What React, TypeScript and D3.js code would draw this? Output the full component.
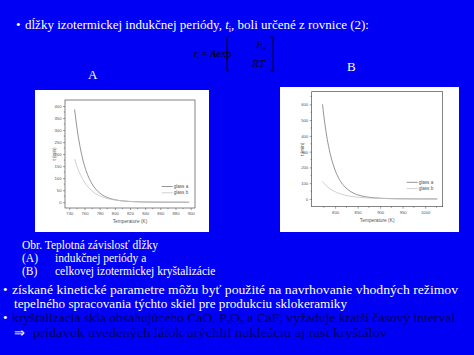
import React, { useEffect, useRef } from "react";
import * as d3 from "d3";

// chart A: induction period vs temperature
const tempA = [747, 749, 752, 755, 758, 762, 766, 770, 775, 780, 786, 792, 800, 810, 820, 835, 850, 870, 898];
const glassA_A = [386, 334, 269, 217, 175, 132, 100, 76, 54, 38.5, 25.8, 17.5, 10.4, 5.6, 3.0, 1.24, 0.52, 0.17, 0.04];
const glassB_A = [180, 160, 133, 112, 94, 74, 59, 47, 35, 26.8, 19.3, 14, 9.1, 5.4, 3.3, 1.57, 0.77, 0.31, 0.09];
const xTicksA = [740, 760, 780, 800, 820, 840, 860, 880, 900];
const yTicksA = [0, 50, 100, 150, 200, 250, 300, 350, 400];

// chart B: total isothermal crystallization
const tempB = [772, 775, 779, 784, 790, 796, 803, 812, 822, 835, 850, 870, 900, 940, 980, 1027];
const glassA_B = [600, 526, 442, 356, 276, 215, 161, 112, 76, 46, 26.4, 13, 4.7, 1.37, 0.44, 0.13];
const glassB_B = [110, 100, 88, 75, 62, 52, 42, 32, 24, 16.8, 11.2, 6.6, 3.2, 1.3, 0.56, 0.23];
const xTicksB = [800, 850, 900, 950, 1000];
const yTicksB = [0, 100, 200, 300, 400, 500, 600];

const seriesNames = ["glass a", "glass b"];
const seriesColors = ["#7a7a7a", "#c4c4c4"];

type Cfg = {
  panel: [number, number, number, number];
  xDom: [number, number];
  yDom: [number, number];
  xRange: [number, number];
  yRange: [number, number];
  xTicks: number[];
  yTicks: number[];
  temps: number[];
  series: number[][];
  legend: [number, number];
  yLabelX: number;
};

function drawChart(g: d3.Selection<SVGGElement, unknown, null, undefined>, c: Cfg) {
  const [px, py, pw, ph] = c.panel;
  g.append("rect").attr("x", px).attr("y", py).attr("width", pw).attr("height", ph).attr("fill", "#fff");

  const x = d3.scaleLinear().domain(c.xDom).range(c.xRange);
  const y = d3.scaleLinear().domain(c.yDom).range(c.yRange);

  const font = "'Liberation Sans', Arial, sans-serif";

  // frame
  g.append("rect")
    .attr("x", c.xRange[0])
    .attr("y", c.yRange[1])
    .attr("width", c.xRange[1] - c.xRange[0])
    .attr("height", c.yRange[0] - c.yRange[1])
    .attr("fill", "none")
    .attr("stroke", "#333")
    .attr("stroke-width", 0.6);

  const xAxis = g
    .append("g")
    .attr("transform", `translate(0,${c.yRange[0]})`)
    .call(d3.axisBottom(x).tickValues(c.xTicks).tickSize(2).tickPadding(2).tickFormat(d3.format("d")));
  const yAxis = g
    .append("g")
    .attr("transform", `translate(${c.xRange[0]},0)`)
    .call(d3.axisLeft(y).tickValues(c.yTicks).tickSize(2).tickPadding(1.5).tickFormat(d3.format("d")));

  [xAxis, yAxis].forEach((ax) => {
    ax.select(".domain").remove();
    ax.selectAll("line").attr("stroke", "#444").attr("stroke-width", 0.5);
    ax.selectAll("text").attr("fill", "#555").style("font-size", "4.2px").style("font-family", font);
  });

  // minor ticks
  const xStep = c.xTicks[1] - c.xTicks[0];
  const yStep = c.yTicks[1] - c.yTicks[0];
  const xMinor = c.xTicks.slice(0, -1).map((t) => t + xStep / 2).concat([c.xTicks[c.xTicks.length - 1] + xStep / 2, c.xTicks[0] - xStep / 2]);
  const yMinor = c.yTicks.slice(0, -1).map((t) => t + yStep / 2).concat([c.yTicks[c.yTicks.length - 1] + yStep / 2]);
  g.selectAll(".xm")
    .data(xMinor.filter((t) => t > c.xDom[0] && t < c.xDom[1]))
    .join("line")
    .attr("x1", (d) => x(d))
    .attr("x2", (d) => x(d))
    .attr("y1", c.yRange[0])
    .attr("y2", c.yRange[0] + 1.2)
    .attr("stroke", "#444")
    .attr("stroke-width", 0.5);
  g.selectAll(".ym")
    .data(yMinor.filter((t) => t > c.yDom[0] && t < c.yDom[1]))
    .join("line")
    .attr("x1", c.xRange[0])
    .attr("x2", c.xRange[0] - 1.2)
    .attr("y1", (d) => y(d))
    .attr("y2", (d) => y(d))
    .attr("stroke", "#444")
    .attr("stroke-width", 0.5);

  const line = d3
    .line<number>()
    .x((_, i) => x(c.temps[i]))
    .y((d) => y(d))
    .curve(d3.curveMonotoneX);

  c.series.forEach((s, i) => {
    g.append("path")
      .attr("d", line(s))
      .attr("fill", "none")
      .attr("stroke", seriesColors[i])
      .attr("stroke-width", 0.8);
  });

  // legend
  const [lx, ly] = c.legend;
  seriesNames.forEach((name, i) => {
    g.append("line")
      .attr("x1", lx)
      .attr("x2", lx + 11)
      .attr("y1", ly + i * 6.3)
      .attr("y2", ly + i * 6.3)
      .attr("stroke", seriesColors[i])
      .attr("stroke-width", 0.8);
    g.append("text")
      .attr("x", lx + 12)
      .attr("y", ly + i * 6.3 + 1.5)
      .attr("fill", "#555")
      .style("font-size", "4.6px")
      .style("font-family", font)
      .text(name);
  });

  // axis titles
  g.append("text")
    .attr("x", (c.xRange[0] + c.xRange[1]) / 2)
    .attr("y", c.yRange[0] + 15)
    .attr("text-anchor", "middle")
    .attr("fill", "#555")
    .style("font-size", "4.8px")
    .style("font-family", font)
    .text("Temperature (K)");
  const yMid = (c.yRange[0] + c.yRange[1]) / 2;
  g.append("text")
    .attr("transform", `translate(${c.yLabelX},${yMid}) rotate(-90)`)
    .attr("text-anchor", "middle")
    .attr("fill", "#555")
    .style("font-size", "4.6px")
    .style("font-family", font)
    .text("t (min)");
}

const App = () => {
  const ref = useRef<SVGSVGElement>(null);

  useEffect(() => {
    const svg = d3.select(ref.current);
    svg.selectAll(".charts").remove();
    const g = svg.append("g").attr("class", "charts");

    drawChart(g.append("g"), {
      panel: [35, 90, 174, 142],
      xDom: [734.3, 905.7],
      yDom: [-24, 425],
      xRange: [65, 195],
      yRange: [208, 100],
      xTicks: xTicksA,
      yTicks: yTicksA,
      temps: tempA,
      series: [glassA_A, glassB_A],
      legend: [161.7, 186.5],
      yLabelX: 55.5,
    });

    drawChart(g.append("g"), {
      panel: [280, 87, 179, 145],
      xDom: [748, 1039],
      yDom: [-49, 680],
      xRange: [311.7, 442.7],
      yRange: [206.7, 91.7],
      xTicks: xTicksB,
      yTicks: yTicksB,
      temps: tempB,
      series: [glassA_B, glassB_B],
      legend: [406.7, 182.3],
      yLabelX: 303.5,
    });
  }, []);

  const serif = "'Liberation Serif', 'Times New Roman', serif";
  const dark = "#00005e";

  return (
    <svg
      ref={ref}
      width={474}
      height={355}
      style={{ position: "fixed", left: 0, top: 0, display: "block" }}
      fontFamily={serif}
    >
      <rect x={0} y={0} width={474} height={355} fill="#0000f5" />

      <text x={16} y={29} fill="#fff" fontSize={13}>
        •
      </text>
      <text x={25} y={29} fill="#fff" fontSize={13}>
        dĺžky izotermickej indukčnej periódy, <tspan fontStyle="italic">t</tspan>
        <tspan fontSize={8} dy={3}>i</tspan>
        <tspan dy={-3}>, boli určené z rovnice (2):</tspan>
      </text>

      {/* formula */}
      <text x={194} y={57} fill="#000" fontSize={10.5}>
        <tspan fontStyle="italic">t</tspan>
        <tspan fontSize={6.5} dy={2}>i</tspan>
        <tspan dy={-2}> = </tspan>
        <tspan fontStyle="italic">A</tspan>exp
      </text>
      <path d="M229.5,37 h-2.5 v34 h2.5 M270.5,37 h2.5 v34 h-2.5" fill="none" stroke="#000" strokeWidth={0.9} />
      <text x={256} y={48} fill="#000" fontSize={11} fontStyle="italic">
        E<tspan fontSize={6.5} dy={2} fontStyle="normal">a</tspan>
      </text>
      <text x={252} y={67} fill="#000" fontSize={11} fontStyle="italic">
        RT
      </text>

      <text x={88} y={79} fill="#fff" fontSize={13}>A</text>
      <text x={347} y={71} fill="#fff" fontSize={13}>B</text>

      {/* caption */}
      <text x={22} y={249} fill="#fff" fontSize={11.5}>Obr. Teplotná závislosť dĺžky</text>
      <text x={22} y={262} fill="#fff" fontSize={11.5}>(A)</text>
      <text x={55} y={262} fill="#fff" fontSize={11.5}>indukčnej periódy a</text>
      <text x={22} y={275} fill="#fff" fontSize={11.5}>(B)</text>
      <text x={55} y={275} fill="#fff" fontSize={11.5}>celkovej izotermickej kryštalizácie</text>

      {/* bullets */}
      <text x={3} y={293.5} fill="#fff" fontSize={13}>•</text>
      <text x={12} y={293.5} fill="#fff" fontSize={13} textLength={446} lengthAdjust="spacingAndGlyphs">
        získané kinetické parametre môžu byť použité na navrhovanie vhodných režimov
      </text>
      <text x={14} y={307.5} fill="#fff" fontSize={13} textLength={333} lengthAdjust="spacingAndGlyphs">
        tepelného spracovania týchto skiel pre produkciu sklokeramiky
      </text>
      <text x={3} y={322} fill="#fff" fontSize={13}>•</text>
      <text x={12} y={322} fill={dark} fontSize={13} textLength={443} lengthAdjust="spacingAndGlyphs">
        kryštalizácia skla obsahujúceho CaO, P<tspan fontSize={7} dy={1.5}>2</tspan>
        <tspan dy={-1.5}>O</tspan>
        <tspan fontSize={7} dy={1.5}>5</tspan>
        <tspan dy={-1.5}> a CaF</tspan>
        <tspan fontSize={7} dy={1.5}>2</tspan>
        <tspan dy={-1.5}> vyžaduje kratší časový interval</tspan>
      </text>
      <text x={14} y={336.5} fill="#fff" fontSize={13}>⇒</text>
      <text x={33} y={336.5} fill={dark} fontSize={13} textLength={354} lengthAdjust="spacingAndGlyphs">
        prídavok uvedených látok urýchlil nukleáciu aj rast kryštálov
      </text>
    </svg>
  );
};

export default App;
